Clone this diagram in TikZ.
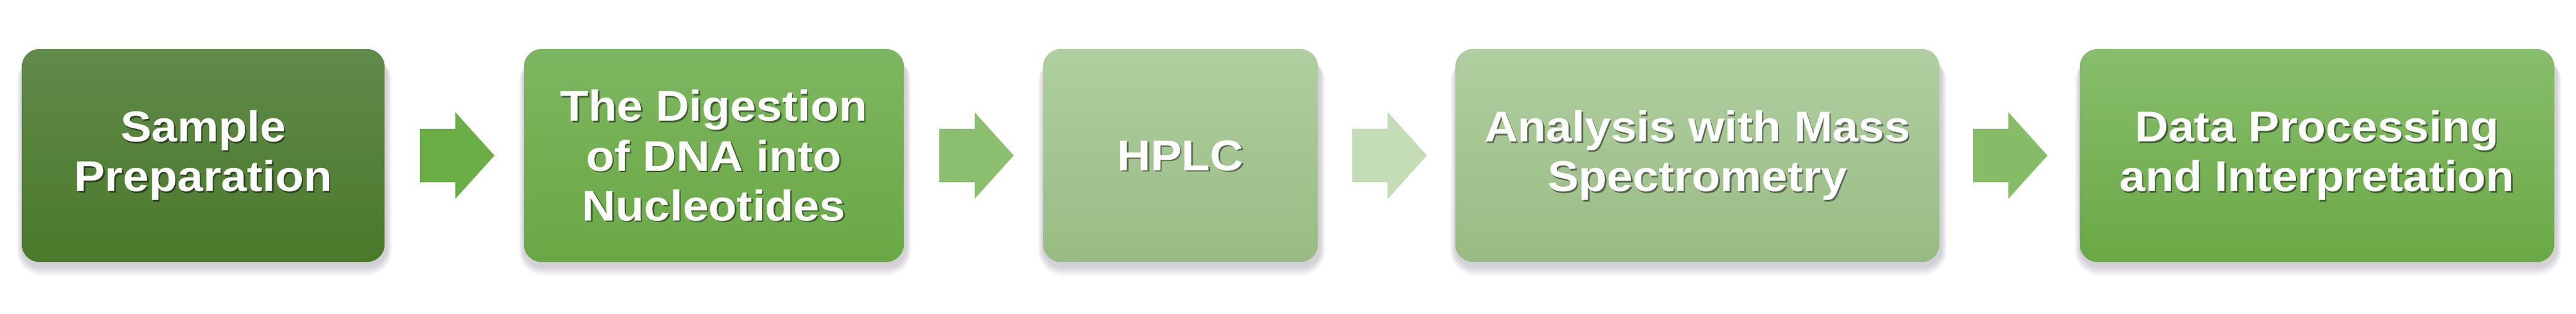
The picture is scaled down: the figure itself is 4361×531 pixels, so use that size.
\documentclass[tikz,border=0pt]{standalone}
\usepackage{fontspec}
\setmainfont[FakeStretch=1.08]{Liberation Sans}
\usetikzlibrary{calc,backgrounds}
\definecolor{bAtop}{RGB}{96,139,75}
\definecolor{bAbot}{RGB}{74,121,41}
\definecolor{bBtop}{RGB}{125,182,96}
\definecolor{bBbot}{RGB}{106,168,69}
\definecolor{bCtop}{RGB}{176,207,160}
\definecolor{bCbot}{RGB}{152,187,131}
\definecolor{bEtop}{RGB}{135,190,108}
\definecolor{bEbot}{RGB}{106,168,69}
\definecolor{arA}{RGB}{108,174,70}
\definecolor{arB}{RGB}{139,190,110}
\definecolor{arC}{RGB}{196,221,182}
\definecolor{arD}{RGB}{134,188,103}
\definecolor{shd}{RGB}{90,80,110}
\newcommand\boxshadow[1]{%
  \foreach \k in {1,...,8}{%
    \fill[shd, opacity=0.035, rounded corners={(30+\k*1.5)*0.01cm}]
      ($(#1.north west)+(2-\k*1.2,14)$) rectangle ($(#1.south east)+(2+\k*1.2,6+\k*2)$);
  }}
\newcommand\arrowpath[1]{($(#1)+(-63,-45)$) -- ($(#1)+(-3,-45)$) -- ($(#1)+(-3,-73)$) -- ($(#1)+(63,0)$) -- ($(#1)+(-3,73)$) -- ($(#1)+(-3,45)$) -- ($(#1)+(-63,45)$) -- cycle}
\newcommand\blockarrow[2]{%
  \begin{pgfonlayer}{background}
  \foreach \k in {1,...,5}{%
    \fill[shd, opacity=0.04, shift={(2+\k*0.8,7+\k*1)}] \arrowpath{#1};
  }
  \end{pgfonlayer}
  \fill[#2] \arrowpath{#1};}
\tikzset{
  stepbox/.style={rounded corners=0.3cm, minimum height=3.6cm, inner sep=0pt,
    text=white, align=center,
    font=\bfseries\fontsize{20.7pt}{23.9pt}\selectfont},
  tshadow/.style={path picture={\node[text=black, opacity=0.45, align=center,
    font=\bfseries\fontsize{20.7pt}{23.9pt}\selectfont]
    at ([shift={(0.025cm,-0.025cm)}]path picture bounding box.center) {#1};}}
}
\begin{document}
\begin{tikzpicture}[x=0.01cm,y=-0.01cm]
\useasboundingbox (0,0) rectangle (4361,531);
\begin{pgfonlayer}{background}
\fill[white] (0,0) rectangle (4361,531);
\end{pgfonlayer}

\node[stepbox, minimum width=6.14cm, top color=bAtop, bottom color=bAbot,
  tshadow={Sample\\Preparation}] (b1) at (344,263) {Sample\\Preparation};
\node[stepbox, minimum width=6.43cm, top color=bBtop, bottom color=bBbot,
  tshadow={The Digestion\\of DNA into\\Nucleotides}] (b2) at (1208.5,263) {The Digestion\\of DNA into\\Nucleotides};
\node[stepbox, minimum width=4.65cm, top color=bCtop, bottom color=bCbot,
  tshadow={HPLC}] (b3) at (1998.5,263) {HPLC};
\node[stepbox, minimum width=8.19cm, top color=bCtop, bottom color=bCbot,
  tshadow={Analysis with Mass\\Spectrometry}] (b4) at (2873.5,263) {Analysis with Mass\\Spectrometry};
\node[stepbox, minimum width=8.03cm, top color=bEtop, bottom color=bEbot,
  tshadow={Data Processing\\and Interpretation}] (b5) at (3922.5,263) {Data Processing\\and Interpretation};

\begin{pgfonlayer}{background}
\boxshadow{b1}\boxshadow{b2}\boxshadow{b3}\boxshadow{b4}\boxshadow{b5}
\end{pgfonlayer}

\coordinate (m1) at ($(b1.east)!0.5!(b2.west)+(5,0)$);
\coordinate (m2) at ($(b2.east)!0.5!(b3.west)+(5,0)$);
\coordinate (m3) at ($(b3.east)!0.5!(b4.west)+(5,0)$);
\coordinate (m4) at ($(b4.east)!0.5!(b5.west)+(1,0)$);
\blockarrow{m1}{arA}
\blockarrow{m2}{arB}
\blockarrow{m3}{arC}
\blockarrow{m4}{arD}
\end{tikzpicture}
\end{document}
